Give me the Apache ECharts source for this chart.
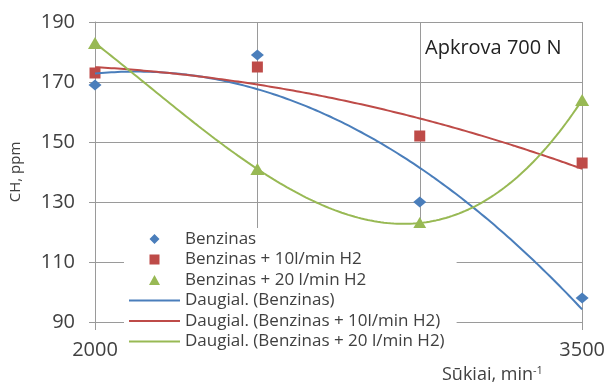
<!DOCTYPE html>
<html>
<head>
<meta charset="utf-8">
<script src="https://cdn.jsdelivr.net/npm/echarts@6/dist/echarts.min.js"></script>
<style>
  html, body { margin: 0; padding: 0; background: #fff; }
  #chart { width: 608px; height: 388px; }
</style>
</head>
<body>
<div id="chart"></div>
<script>
// Engine speed (min^-1) and measured CH concentration (ppm)
const speeds = [2000, 2500, 3000, 3500];
const chBenzinas = [169, 179, 130, 98];
const chH2_10 = [173, 175, 152, 143];
const chH2_20 = [183, 141, 123, 164];

const seriesNames = [
  'Benzinas',
  'Benzinas + 10l/min H2',
  'Benzinas + 20 l/min H2'
];
const trendNames = [
  'Daugial. (Benzinas)',
  'Daugial. (Benzinas + 10l/min H2)',
  'Daugial. (Benzinas + 20 l/min H2)'
];
// polynomial trendline order per series
const trendOrders = [2, 2, 3];

const colors = ['#4A7EBB', '#BE4B48', '#98B954'];
const symbols = ['diamond', 'rect', 'triangle'];
const symbolSizes = [[13, 11], 11, [14, 12]];

// Legend marks: a small centred shape inside a 51x10 box (tiny corner
// anchors keep the box width so the shape is not stretched)
const anchors = 'M0,5L0.001,5L0,5.001Z M51,5L50.999,5L51,5.001Z ';
const legendIcons = [
  'path://' + anchors + 'M20.5,5L25.5,0L30.5,5L25.5,10Z',
  'path://' + anchors + 'M20.5,0L30.5,0L30.5,10L20.5,10Z',
  'path://' + anchors + 'M25.5,0L31,10L20,10Z'
];
// Legend mark for the trendlines: a thin bar across the whole box
const lineIcon = 'path://M0,0L51,0L51,2L0,2Z';

// Least-squares polynomial fit (Excel "Daugianaris" trendline)
function polyFit(xs, ys, order) {
  const m = order + 1;
  const x0 = xs[0];
  const A = [];
  for (let r = 0; r < m; r++) A.push(new Array(m + 1).fill(0));
  for (let i = 0; i < xs.length; i++) {
    const u = (xs[i] - x0) / 1000;
    for (let r = 0; r < m; r++) {
      for (let c = 0; c < m; c++) A[r][c] += Math.pow(u, r + c);
      A[r][m] += Math.pow(u, r) * ys[i];
    }
  }
  for (let c = 0; c < m; c++) {
    for (let r = c + 1; r < m; r++) {
      const f = A[r][c] / A[c][c];
      for (let k = c; k <= m; k++) A[r][k] -= f * A[c][k];
    }
  }
  const coef = new Array(m).fill(0);
  for (let r = m - 1; r >= 0; r--) {
    let v = A[r][m];
    for (let k = r + 1; k < m; k++) v -= A[r][k] * coef[k];
    coef[r] = v / A[r][r];
  }
  return x => {
    const u = (x - x0) / 1000;
    let y = 0;
    for (let k = m - 1; k >= 0; k--) y = y * u + coef[k];
    return y;
  };
}

function trendCurve(ys, order) {
  const f = polyFit(speeds, ys, order);
  const pts = [];
  for (let x = speeds[0]; x <= speeds[speeds.length - 1]; x += 10) pts.push([x, f(x)]);
  return pts;
}

const measured = [chBenzinas, chH2_10, chH2_20];
const FONT = '"Open Sans"';
const TXT = '#404040';
const GRID = '#9a9a9a';

const series = [];
measured.forEach((ys, i) => {
  series.push({
    name: seriesNames[i],
    type: 'scatter',
    symbol: symbols[i],
    symbolSize: symbolSizes[i],
    itemStyle: { color: colors[i], opacity: 1 },
    data: speeds.map((x, j) => [x, ys[j]]),
    z: 2
  });
});
measured.forEach((ys, i) => {
  series.push({
    name: trendNames[i],
    type: 'line',
    symbol: 'none',
    smooth: false,
    lineStyle: { color: colors[i], width: 2 },
    itemStyle: { color: colors[i] },
    data: trendCurve(ys, trendOrders[i]),
    z: 3
  });
});

const legendData = seriesNames.map((n, i) => ({ name: n, icon: legendIcons[i], itemStyle: { color: colors[i], opacity: 1 } }))
  .concat(trendNames.map((n, i) => ({ name: n, icon: lineIcon, itemStyle: { color: colors[i] } })));

const chart = echarts.init(document.getElementById('chart'), null, { renderer: 'canvas' });
chart.setOption({
  animation: false,
  backgroundColor: '#fff',
  grid: { left: 92, right: 24, top: 22, bottom: 66, containLabel: false },
  xAxis: {
    type: 'value',
    min: 2000, max: 3500, interval: 500,
    axisLine: { show: true, lineStyle: { color: GRID } },
    axisTick: { show: true, length: 8, lineStyle: { color: GRID } },
    splitLine: { show: true, lineStyle: { color: GRID, width: 1 } },
    axisLabel: {
      margin: 18, fontFamily: FONT, fontSize: 20, color: TXT,
      formatter: v => (v === 2000 || v === 3500) ? String(v) : ''
    }
  },
  yAxis: {
    type: 'value',
    min: 90, max: 190, interval: 20,
    name: 'CH, ppm',
    nameLocation: 'middle',
    nameGap: 72,
    nameRotate: 90,
    nameTextStyle: { fontFamily: FONT, fontSize: 15, color: TXT },
    axisLine: { show: true, lineStyle: { color: GRID } },
    axisTick: { show: true, length: 6, lineStyle: { color: GRID } },
    splitLine: { show: true, lineStyle: { color: GRID, width: 1 } },
    axisLabel: { margin: 20, fontFamily: FONT, fontSize: 20, color: TXT }
  },
  legend: {
    orient: 'vertical',
    left: 124, top: 228,
    padding: [1, 12, 6, 5],
    backgroundColor: '#fff',
    itemWidth: 51, itemHeight: 10, itemGap: 0.5,
    textStyle: { fontFamily: FONT, fontSize: 17, color: TXT, lineHeight: 20 },
    data: legendData,
    z: 10
  },
  graphic: [
    {
      type: 'text', left: 425, top: 38, z: 20,
      style: { text: 'Apkrova 700 N', font: '20px ' + FONT, fill: '#222' }
    },
    {
      type: 'text', left: 442, top: 365, z: 20,
      style: {
        text: 'Sūkiai, min{sup|-1}',
        font: '18px ' + FONT, fill: TXT,
        rich: { sup: { fontSize: 11, fontFamily: 'Open Sans', fill: TXT, verticalAlign: 'top', padding: [0, 0, 9, 0] } }
      }
    }
  ],
  series: series
});
</script>
</body>
</html>
